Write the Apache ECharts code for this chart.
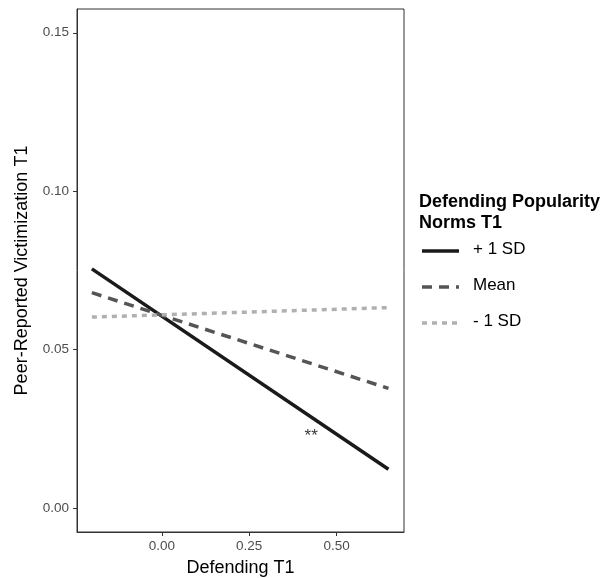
<!DOCTYPE html>
<html>
<head>
<meta charset="utf-8">
<script src="https://cdn.jsdelivr.net/npm/echarts@6/dist/echarts.min.js"></script>
<style>
  html, body { margin: 0; padding: 0; background: #fff; }
  #chart { width: 606px; height: 578px; }
</style>
</head>
<body>
<div id="chart"></div>
<script>
const xEnds = [-0.2, 0.648];
const plusSD = [0.0755, 0.0123];
const meanSD = [0.0680, 0.0378];
const minusSD = [0.0603, 0.0633];
const seriesNames = ['+ 1 SD', 'Mean', '- 1 SD'];
const xTicks = [0, 0.25, 0.5];
const yTicks = [0, 0.05, 0.1, 0.15];
const star = [0.427, 0.0228];

const font = 'Liberation Sans, Arial, sans-serif';
const styles = [
  { color: '#1a1a1a', dash: 'solid' },
  { color: '#555555', dash: [10, 7] },
  { color: '#b0b0b0', dash: [5, 5] }
];
const chart = echarts.init(document.getElementById('chart'));
const pairs = vals => xEnds.map((x, i) => [x, vals[i]]);

// legend drawn by hand so the keys show the dash patterns
const legendRows = [251, 287, 323];
const legendKeys = [];
seriesNames.forEach((name, i) => {
  legendKeys.push({
    type: 'line', silent: true,
    shape: { x1: 422, y1: legendRows[i], x2: 459, y2: legendRows[i] },
    style: { stroke: styles[i].color, lineWidth: 3.5, lineDash: styles[i].dash }
  });
  legendKeys.push({
    type: 'text', left: 473, top: legendRows[i] - 10,
    style: { text: name, fontFamily: font, fontSize: 17, fill: '#000' }
  });
});

chart.setOption({
  animation: false,
  grid: {
    left: 77, top: 9, right: 202, bottom: 46,
    show: true, borderColor: '#333', borderWidth: 1,
    containLabel: false, outerBoundsMode: 'none'
  },
  xAxis: {
    type: 'value', min: -0.2425, max: 0.6925,
    name: 'Defending T1', nameLocation: 'middle', nameGap: 27,
    nameTextStyle: { fontFamily: font, fontSize: 18, color: '#000' },
    splitLine: { show: false },
    axisLine: { show: true, onZero: false, lineStyle: { color: '#333' } },
    axisTick: { show: true, length: 4, customValues: xTicks, lineStyle: { color: '#333' } },
    axisLabel: { customValues: xTicks, fontFamily: font, fontSize: 13.5, color: '#4d4d4d', margin: 7,
      formatter: v => v.toFixed(2) }
  },
  yAxis: {
    type: 'value', min: -0.0075, max: 0.1575,
    name: 'Peer-Reported Victimization T1', nameLocation: 'middle', nameGap: 46,
    nameTextStyle: { fontFamily: font, fontSize: 18, color: '#000' },
    splitLine: { show: false },
    axisLine: { show: true, onZero: false, lineStyle: { color: '#333' } },
    axisTick: { show: true, length: 4, customValues: yTicks, lineStyle: { color: '#333' } },
    axisLabel: { customValues: yTicks, fontFamily: font, fontSize: 13.5, color: '#4d4d4d', margin: 8,
      formatter: v => v.toFixed(2) }
  },
  graphic: [{
    type: 'text', left: 419, top: 192,
    style: { text: 'Defending Popularity\nNorms T1', fontFamily: font, fontSize: 18,
      fontWeight: 'bold', fill: '#000', lineHeight: 21 }
  }].concat(legendKeys),
  series: [
    { name: seriesNames[0], type: 'line', data: pairs(plusSD), symbol: 'none',
      lineStyle: { color: styles[0].color, width: 3.5, type: styles[0].dash } },
    { name: seriesNames[1], type: 'line', data: pairs(meanSD), symbol: 'none',
      lineStyle: { color: styles[1].color, width: 3.5, type: styles[1].dash } },
    { name: seriesNames[2], type: 'line', data: pairs(minusSD), symbol: 'none',
      lineStyle: { color: styles[2].color, width: 3.5, type: styles[2].dash } },
    { type: 'scatter', data: [star], symbolSize: 0, silent: true,
      label: { show: true, formatter: '**', position: 'inside', fontFamily: font, fontSize: 17, color: '#000' } }
  ]
});
</script>
</body>
</html>
